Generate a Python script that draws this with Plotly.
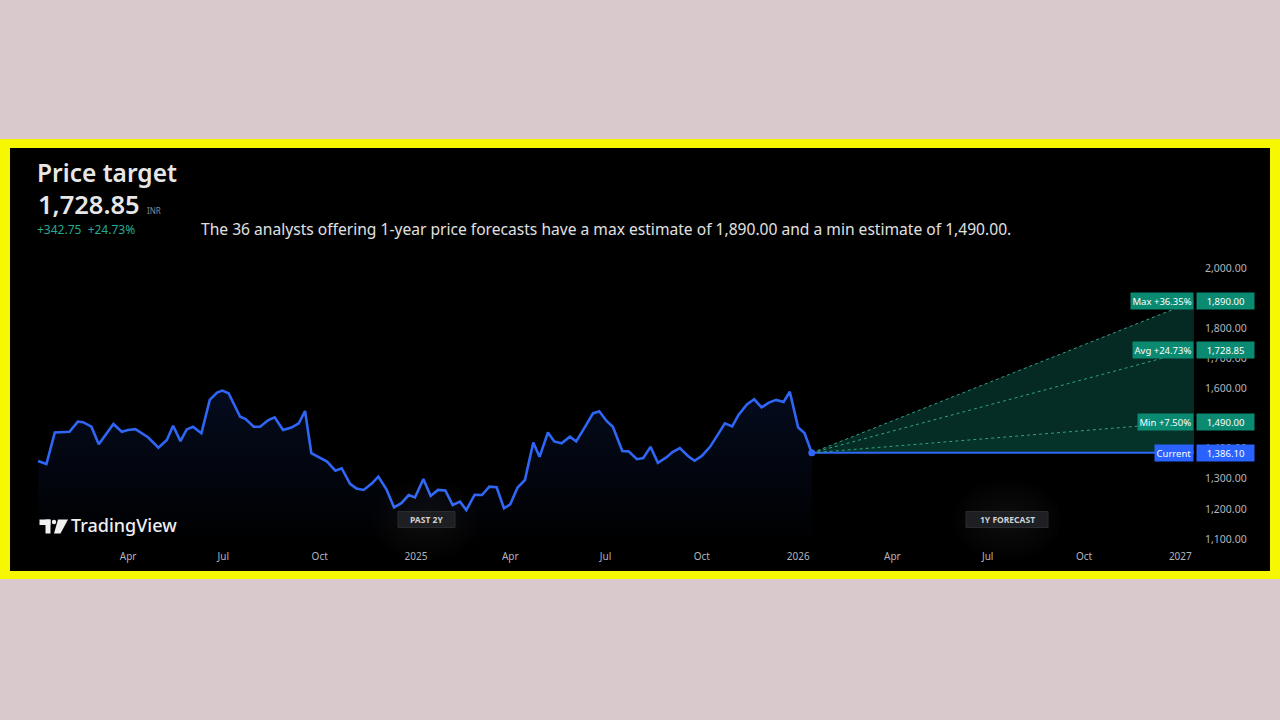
import plotly.graph_objects as go

# ---------------- data ----------------
dates = [
    "2024-01-06", "2024-01-14", "2024-01-22", "2024-01-29", "2024-02-05", "2024-02-13",
    "2024-02-18", "2024-02-26", "2024-03-04", "2024-03-18", "2024-03-26", "2024-04-01",
    "2024-04-08", "2024-04-20", "2024-04-30", "2024-05-08", "2024-05-14", "2024-05-21",
    "2024-05-27", "2024-06-02", "2024-06-10", "2024-06-18", "2024-06-25", "2024-06-30",
    "2024-07-06", "2024-07-17", "2024-07-22", "2024-07-30", "2024-08-05", "2024-08-13",
    "2024-08-19", "2024-08-27", "2024-09-04", "2024-09-11", "2024-09-17", "2024-09-23",
    "2024-10-01", "2024-10-08", "2024-10-16", "2024-10-22", "2024-10-30", "2024-11-05",
    "2024-11-12", "2024-11-20", "2024-11-26", "2024-12-04", "2024-12-11", "2024-12-18",
    "2024-12-25", "2024-12-31", "2025-01-08", "2025-01-15", "2025-01-22", "2025-01-29",
    "2025-02-05", "2025-02-12", "2025-02-18", "2025-02-26", "2025-03-05", "2025-03-12",
    "2025-03-19", "2025-03-26", "2025-04-01", "2025-04-08", "2025-04-15", "2025-04-23",
    "2025-04-29", "2025-05-07", "2025-05-13", "2025-05-20", "2025-05-28", "2025-06-03",
    "2025-06-11", "2025-06-19", "2025-06-25", "2025-07-02", "2025-07-08", "2025-07-17",
    "2025-07-23", "2025-07-31", "2025-08-06", "2025-08-13", "2025-08-20", "2025-08-28",
    "2025-09-03", "2025-09-10", "2025-09-18", "2025-09-24", "2025-10-01", "2025-10-09",
    "2025-10-17", "2025-10-23", "2025-10-30", "2025-11-05", "2025-11-13", "2025-11-20",
    "2025-11-27", "2025-12-04", "2025-12-11", "2025-12-18", "2025-12-24", "2026-01-01",
    "2026-01-07", "2026-01-14",
]
prices = [
    1359, 1349, 1454, 1456, 1456, 1490,
    1488, 1473, 1415, 1482, 1456, 1462,
    1465, 1438, 1403, 1429, 1476, 1425,
    1464, 1473, 1451, 1562, 1586, 1593,
    1584, 1506, 1499, 1473, 1473, 1495,
    1504, 1462, 1470, 1484, 1525, 1385,
    1370, 1357, 1327, 1335, 1283, 1268,
    1263, 1285, 1307, 1263, 1205, 1219,
    1246, 1238, 1299, 1243, 1263, 1261,
    1213, 1224, 1196, 1247, 1246, 1274,
    1272, 1202, 1215, 1271, 1296, 1420,
    1373, 1454, 1424, 1418, 1440, 1424,
    1470, 1517, 1524, 1492, 1473, 1392,
    1391, 1365, 1369, 1406, 1353, 1371,
    1389, 1402, 1375, 1360, 1376, 1407,
    1451, 1484, 1474, 1512, 1547, 1564,
    1537, 1553, 1562, 1555, 1589, 1470,
    1452, 1386.10,
]

current_date = "2026-01-14"
current_price = 1386.10
target_date = "2027-01-14"
target_max = 1890.00
target_avg = 1728.85
target_min = 1490.00
max_pct = "+36.35%"
avg_pct = "+24.73%"
min_pct = "+7.50%"

y_ticks = [1100, 1200, 1300, 1400, 1500, 1600, 1700, 1800, 1900, 2000]
x_tick_dates = ["2024-04-01", "2024-07-01", "2024-10-01", "2025-01-01", "2025-04-01",
                "2025-07-01", "2025-10-01", "2026-01-01", "2026-04-01", "2026-07-01",
                "2026-10-01", "2027-01-01"]
x_tick_labels = ["Apr", "Jul", "Oct", "2025", "Apr", "Jul", "Oct", "2026", "Apr", "Jul",
                 "Oct", "2027"]

# ---------------- layout helpers ----------------
W, H = 1280, 720
FONT = "Noto Sans"


def px(x):
    return x / W


def py(y):
    return 1 - y / H


BLUE = "#2f66f5"
GREEN_TXT = "#22ab94"
AXIS_TXT = "#b2b5be"

fig = go.Figure()

# history area + line
fig.add_trace(go.Scatter(
    x=dates, y=prices, mode="lines",
    line=dict(color=BLUE, width=2.6),
    fill="tozeroy",
    fillgradient=dict(type="vertical", start=1076, stop=1600,
                      colorscale=[[0, "rgba(41,98,255,0.0)"], [1, "rgba(41,98,255,0.12)"]]),
    hoverinfo="skip", showlegend=False,
))

# forecast: current flat line then min / avg / max fan
fx = [current_date, target_date]
fig.add_trace(go.Scatter(x=fx, y=[current_price, current_price], mode="lines",
                         line=dict(color=BLUE, width=2), showlegend=False, hoverinfo="skip"))
fig.add_trace(go.Scatter(x=fx, y=[current_price, target_min], mode="lines",
                         line=dict(color="#34a08a", width=1, dash="dot"),
                         fill="tonexty", fillcolor="rgba(14,140,116,0.36)",
                         showlegend=False, hoverinfo="skip"))
fig.add_trace(go.Scatter(x=fx, y=[current_price, target_avg], mode="lines",
                         line=dict(color="#34a08a", width=1, dash="dot"),
                         fill="tonexty", fillcolor="rgba(14,140,116,0.32)",
                         showlegend=False, hoverinfo="skip"))
fig.add_trace(go.Scatter(x=fx, y=[current_price, target_max], mode="lines",
                         line=dict(color="#34a08a", width=1, dash="dot"),
                         fill="tonexty", fillcolor="rgba(14,140,116,0.30)",
                         showlegend=False, hoverinfo="skip"))
# current point dot
fig.add_trace(go.Scatter(x=[current_date], y=[current_price], mode="markers",
                         marker=dict(color=BLUE, size=7), showlegend=False, hoverinfo="skip"))

shapes = [
    # yellow frame and black panel
    dict(type="rect", xref="paper", yref="paper", x0=px(0), x1=px(1280), y0=py(579), y1=py(139),
         fillcolor="#f7f700", line=dict(width=0), layer="below"),
    dict(type="rect", xref="paper", yref="paper", x0=px(10), x1=px(1270), y0=py(571), y1=py(148),
         fillcolor="#000000", line=dict(width=0), layer="below"),
]

# soft glow behind the two badges (many faint layers)
for cx in (426, 1007):
    for i in range(10):
        r = 40 - i * 3.2
        shapes.append(dict(type="circle", xref="paper", yref="paper",
                           x0=px(cx - r * 1.35), x1=px(cx + r * 1.35), y0=py(520 + r), y1=py(520 - r),
                           fillcolor="rgba(255,255,255,0.007)", line=dict(width=0), layer="above"))
# badges
shapes.append(dict(type="rect", xref="paper", yref="paper", x0=px(398), x1=px(455), y0=py(527.5),
                   y1=py(511.5), fillcolor="#1e1f22", line=dict(color="#2a2b2f", width=1), layer="above"))
shapes.append(dict(type="rect", xref="paper", yref="paper", x0=px(966), x1=px(1048), y0=py(527.5),
                   y1=py(511.5), fillcolor="#1e1f22", line=dict(color="#2a2b2f", width=1), layer="above"))

# TradingView logo glyph
shapes.append(dict(type="rect", xref="paper", yref="paper", x0=px(39.5), x1=px(50.5), y0=py(525),
                   y1=py(519.5), fillcolor="#f0f0f0", line=dict(width=0), layer="above"))
shapes.append(dict(type="rect", xref="paper", yref="paper", x0=px(45.5), x1=px(50.5), y0=py(533.5),
                   y1=py(519.5), fillcolor="#f0f0f0", line=dict(width=0), layer="above"))
shapes.append(dict(type="circle", xref="paper", yref="paper", x0=px(51.8), x1=px(56.2), y0=py(524.2),
                   y1=py(519.8), fillcolor="#f0f0f0", line=dict(width=0), layer="above"))
shapes.append(dict(type="path", xref="paper", yref="paper",
                   path=f"M {px(58)} {py(519.5)} L {px(68)} {py(519.5)} L {px(60.5)} {py(533.5)} "
                        f"L {px(54)} {py(533.5)} Z",
                   fillcolor="#f0f0f0", line=dict(width=0), layer="above"))

ann = []


def text(x, y, s, size, color, weight=None, xanchor="left"):
    f = dict(family=FONT, size=size, color=color)
    if weight:
        f["weight"] = weight
    ann.append(dict(xref="paper", yref="paper", x=px(x), y=py(y), text=s, showarrow=False,
                    xanchor=xanchor, yanchor="middle", font=f))


text(35, 172, "Price target", 24.5, "#e6e6e6", 600)
text(36, 204, "1,728.85", 25.5, "#e6e6e6", 600)
text(145, 210, "INR", 8, "#8a8d96")
text(35, 230, "+342.75  +24.73%", 12, GREEN_TXT)
text(199, 229, "The 36 analysts offering 1-year price forecasts have a max estimate of "
               "1,890.00 and a min estimate of 1,490.00.", 15.6, "#e0e0e0")
text(69, 525, "TradingView", 18, "#f0f0f0", 500)
text(426.5, 519.5, "PAST 2Y", 8.5, "#cfd0d3", 700, xanchor="center")
text(1007, 519.5, "1Y FORECAST", 8.5, "#cfd0d3", 700, xanchor="center")


def badge(y, label, value, color):
    f = dict(family=FONT, size=9.5, color="#ffffff")
    ann.append(dict(xref="paper", yref="y", x=px(1193.5), y=y, text=label, showarrow=False,
                    xanchor="right", yanchor="middle", font=f, bgcolor=color, borderpad=1.5))
    ann.append(dict(xref="paper", yref="y", x=px(1196), y=y, text=value, showarrow=False,
                    xanchor="left", yanchor="middle", font=f, bgcolor=color, borderpad=1.5,
                    width=54))


badge(target_max, f"Max {max_pct}", f"{target_max:,.2f}", "#0b8a72")
badge(target_avg, f"Avg {avg_pct}", f"{target_avg:,.2f}", "#0b8a72")
badge(target_min, f"Min {min_pct}", f"{target_min:,.2f}", "#0b8a72")
badge(current_price, "Current", f"{current_price:,.2f}", "#2962ff")

fig.update_layout(
    width=W, height=H,
    margin=dict(l=0, r=0, t=0, b=0),
    paper_bgcolor="#d9c8cc",
    plot_bgcolor="rgba(0,0,0,0)",
    showlegend=False,
    shapes=shapes,
    annotations=ann,
    xaxis=dict(
        type="date", domain=[px(37), px(1195)], range=["2024-01-05", "2027-01-15"],
        tickvals=x_tick_dates, ticktext=x_tick_labels,
        tickfont=dict(family=FONT, size=10, color=AXIS_TXT),
        showgrid=False, zeroline=False, showline=False, ticks="", ticklabelstandoff=3,
    ),
    yaxis=dict(
        domain=[py(546), py(262)], range=[1076.8, 2019.9], side="right",
        tickvals=y_ticks, tickformat=",.2f",
        tickfont=dict(family=FONT, size=10.5, color=AXIS_TXT),
        showgrid=False, zeroline=False, showline=False, ticks="", ticklabelstandoff=9,
    ),
)

fig.write_html("out.html", config={"displayModeBar": False},
               post_script="document.body.style.margin='0';document.body.style.overflow='hidden';")
